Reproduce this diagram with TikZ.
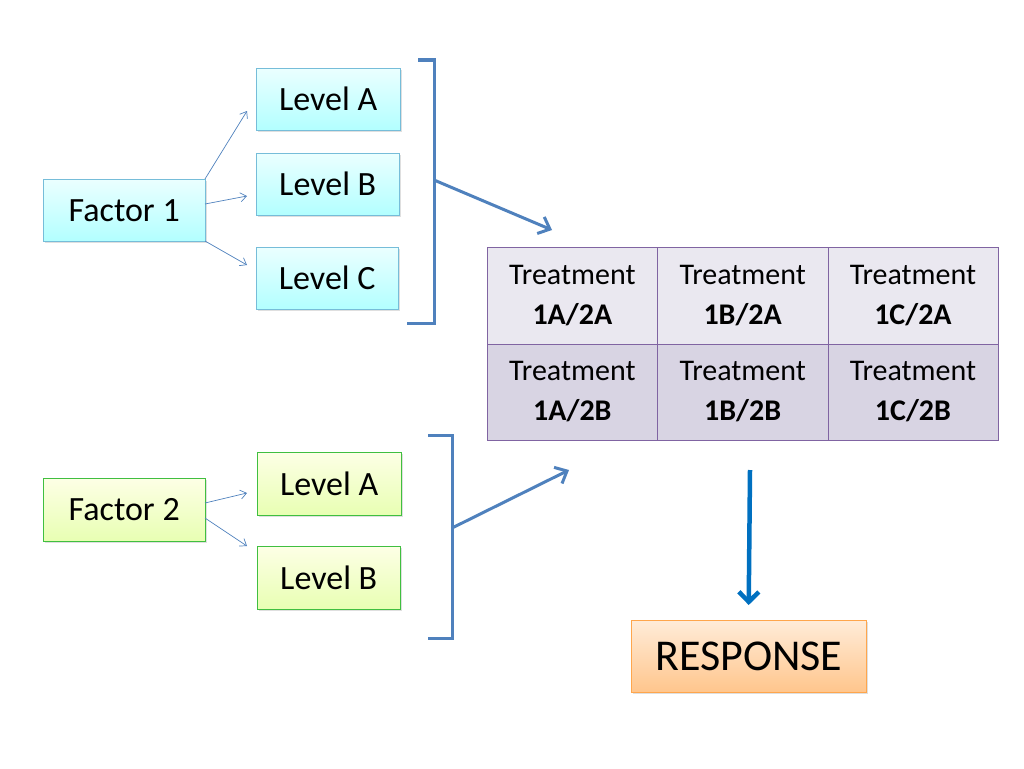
\documentclass[tikz,border=0pt]{standalone}
\usepackage{fontspec}
\setmainfont{Carlito}
\usetikzlibrary{arrows.meta,shadows}
\definecolor{boxblue}{RGB}{60,160,200}
\definecolor{linkblue}{RGB}{79,129,189}
\definecolor{darkblue}{RGB}{0,112,192}
\definecolor{cellline}{RGB}{128,100,162}
\begin{document}
\begin{tikzpicture}[
    x=1pt, y=-1pt,
    box/.style={rectangle, anchor=north west, inner sep=0pt, font=\fontsize{34}{34}\selectfont,
        drop shadow={shadow xshift=1.5pt, shadow yshift=-1.5pt, opacity=0.25}},
    blue box/.style={box, draw=boxblue!70, top color=cyan!8, bottom color=cyan!30},
    green box/.style={box, draw=green!50!gray, top color=green!8!yellow!10, bottom color=green!30!yellow!30},
    cell/.style={rectangle, anchor=north west, draw=cellline, inner sep=0pt, minimum width=170.3pt,
        minimum height=96.5pt, align=center, font=\fontsize{30}{40}\selectfont},
    thin link/.style={-{Straight Barb[length=6pt,width=9pt]}, linkblue, line width=0.7pt},
    bracket/.style={linkblue, line width=3pt},
    big link/.style={-{Straight Barb[length=10pt,width=18pt]}, linkblue, line width=3pt},
]
    \useasboundingbox (0,0) rectangle (1024,768);

    % factor 1 and its levels
    \node[blue box, minimum width=162pt, minimum height=62pt] (f1) at (43,179) {Factor 1};
    \node[blue box, minimum width=144pt, minimum height=62pt] (f1a) at (256,68) {Level A};
    \node[blue box, minimum width=143pt, minimum height=62pt] (f1b) at (256,153) {Level B};
    \node[blue box, minimum width=142pt, minimum height=62pt] (f1c) at (256,247) {Level C};

    % factor 2 and its levels
    \node[green box, minimum width=162pt, minimum height=63pt] (f2) at (43,478) {Factor 2};
    \node[green box, minimum width=144pt, minimum height=63pt] (f2a) at (257,452) {Level A};
    \node[green box, minimum width=143pt, minimum height=63pt] (f2b) at (257,546) {Level B};

    % treatment table
    \foreach \col/\lev [count=\i from 0] in {A/A, B/B, C/C} {
        \node[cell, fill={rgb,255:red,234;green,232;blue,240}] (t\lev A) at (487+\i*170.3,247)
            {Treatment\\\textbf{1\col/2A}};
        \node[cell, fill={rgb,255:red,216;green,212;blue,227}] (t\lev B) at (487+\i*170.3,343.5)
            {Treatment\\\textbf{1\col/2B}};
    }

    \node[box, draw=orange!70, top color=orange!15, bottom color=orange!45,
        minimum width=235pt, minimum height=72pt, font=\fontsize{44}{44}\selectfont] (resp) at (631,620) {RESPONSE};

    % links
    \coordinate (f1top) at (205,179);
    \coordinate (f1mid) at (205,204);
    \coordinate (f1bot) at (205,241);
    \draw[thin link] (f1top) -- ([xshift=-9pt]f1a.west |- 0,111);
    \draw[thin link] (f1mid) -- ([xshift=-9pt]f1b.west |- 0,196);
    \draw[thin link] (f1bot) -- ([xshift=-9pt]f1c.west |- 0,265);
    \coordinate (f2top) at (205,503);
    \coordinate (f2bot) at (205,518);
    \draw[thin link] (f2top) -- ([xshift=-10pt]f2a.west |- 0,493);
    \draw[thin link] (f2bot) -- ([xshift=-10pt]f2b.west |- 0,546);

    % brackets
    \draw[bracket] (418,60) -- (434,60) -- (434,323) -- (407,323);
    \draw[bracket] (428,435) -- (452,435) -- (452,638) -- (428,638);
    \coordinate (b1) at (434,180);
    \coordinate (b1end) at (552,230);
    \coordinate (b2) at (452,528);
    \coordinate (b2end) at (569,470);
    \draw[big link] (b1) -- (b1end);
    \draw[big link] (b2) -- (b2end);

    \coordinate (down) at (750,470);
    \draw[-{Straight Barb[length=10pt,width=20pt]}, darkblue, line width=4.5pt] (down) -- (resp.north |- 0,605);
\end{tikzpicture}
\end{document}
